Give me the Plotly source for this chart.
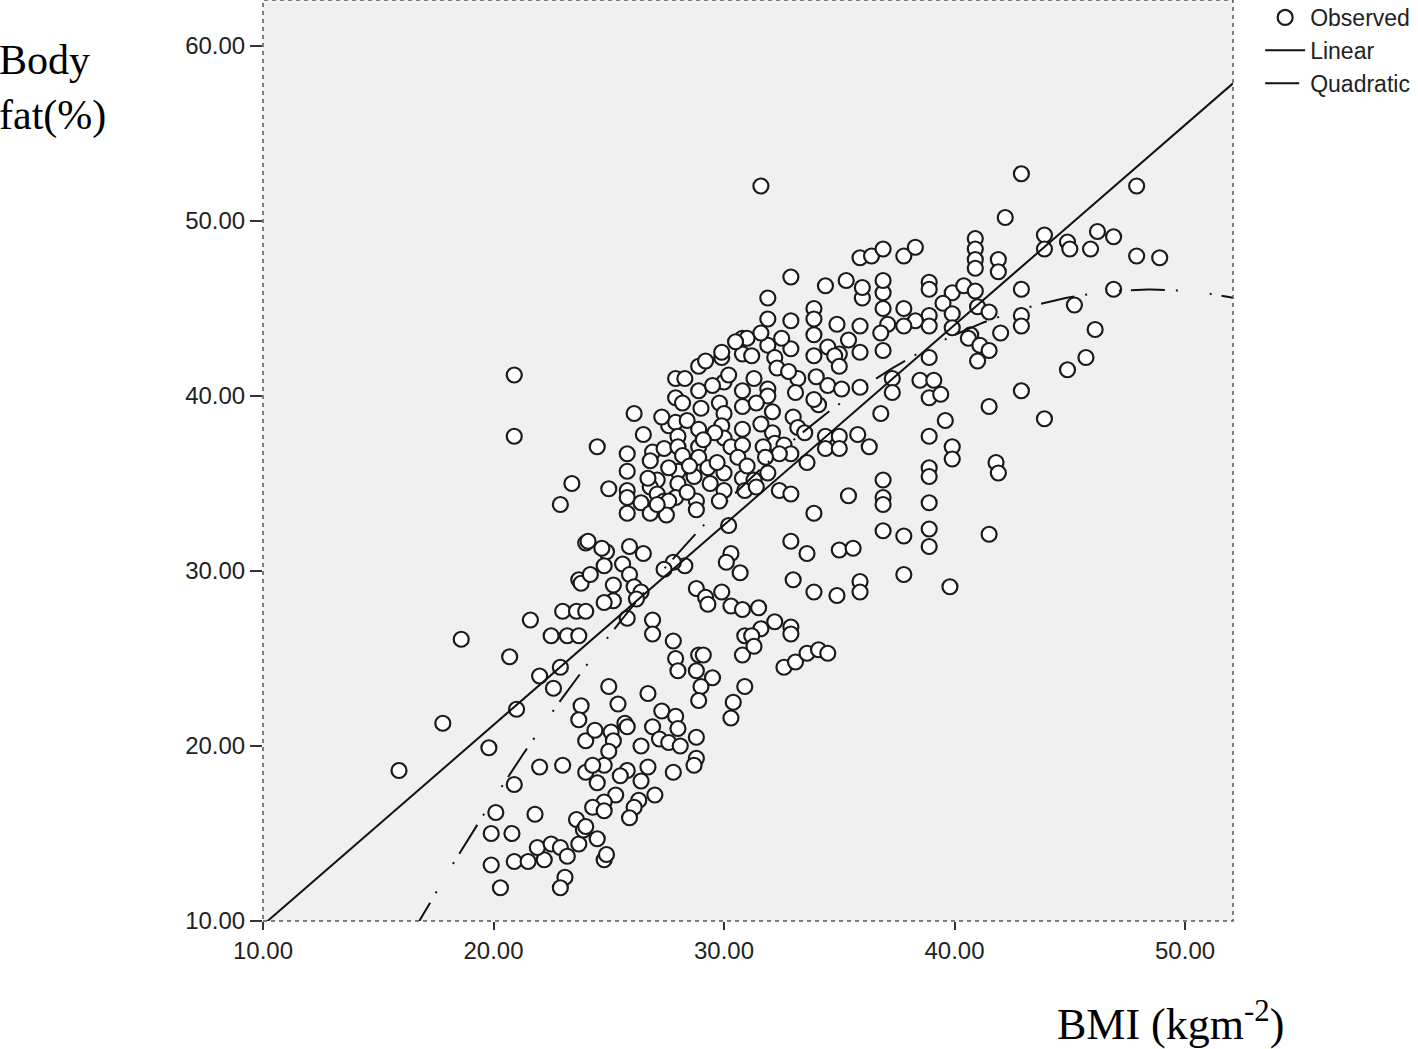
import numpy as np
import plotly.graph_objects as go

# observed points (BMI, body fat %)
bmi = [
    15.9, 17.8, 18.6, 19.8, 20.7, 22.0, 22.9, 22.6, 21.0, 22.0, 23.0, 20.9, 20.1, 21.8, 19.9, 20.8,
    19.9, 20.9, 21.5, 22.2, 21.9, 22.5, 22.9, 23.2, 23.7, 23.6, 23.9, 23.1, 22.9, 20.3, 23.8, 23.7,
    24.0, 24.0, 22.5, 23.2, 23.7,
    20.9, 20.9, 23.4, 22.9, 24.0, 23.7, 23.8, 21.6, 23.0, 23.6, 24.0,
    28.9, 29.9, 29.9, 30.8, 30.8, 27.9, 28.3, 27.9, 28.9, 30.0, 29.8, 29.0, 26.1, 24.5, 25.8, 25.8,
    25.0, 25.8, 25.8, 26.9, 27.4, 27.6, 27.9, 28.4, 28.0, 28.0, 28.2, 28.9, 28.9, 28.9, 29.3, 29.4,
    30.0, 30.0, 28.0, 28.0, 27.9, 27.1, 26.8, 27.1, 27.4, 30.0, 29.9, 30.0, 30.3, 30.8, 30.8, 30.8,
    30.8, 30.6, 30.8, 30.9, 28.7, 28.8, 27.6, 26.4,
    31.9, 31.9, 32.9, 33.9, 33.9, 33.9, 34.9, 35.9, 36.0, 36.9, 36.9, 37.8, 37.1, 36.8, 36.9, 35.9,
    35.4, 35.0, 31.0, 31.2, 31.9, 32.9, 33.9, 32.2, 32.3, 33.2, 32.8, 34.5, 34.8, 35.0, 34.5, 35.1,
    35.9, 37.3, 37.3, 36.8, 34.1, 33.9, 33.1, 33.0, 33.2, 31.9, 31.9, 32.1, 32.1, 32.2, 32.6, 32.9,
    32.4, 31.7, 31.8, 34.4, 35.0, 34.4, 35.0, 35.8, 36.3, 36.9, 31.3, 31.9, 32.4, 32.9, 35.4, 36.9,
    25.8, 26.8, 27.5, 28.8, 27.1, 30.2, 24.1, 24.9, 24.7, 25.9, 26.5, 30.3, 30.1, 30.7, 28.3, 27.8,
    27.4, 24.8, 24.2, 25.6, 25.9, 25.2, 26.1, 25.2, 24.8, 26.4, 26.2, 25.8, 28.8, 29.2, 29.3, 29.9,
    30.3, 30.8, 26.9, 26.9, 27.8, 27.9, 28.9, 29.1, 30.9, 30.8,
    33.9, 36.9, 36.9, 37.8, 37.8, 32.9, 33.6, 35.0, 35.6, 33.0, 33.9, 34.9, 35.9, 35.9, 31.5, 32.2,
    32.9, 32.9, 31.6, 31.2, 31.3, 32.6, 33.1, 33.6, 34.1, 34.5,
    28.0, 28.8, 29.5, 29.0, 28.9, 30.9, 30.4, 30.3, 25.0, 26.7, 25.4, 24.4, 25.1, 25.2, 25.0, 25.7,
    25.8, 27.3, 27.9, 26.9, 28.0, 27.2, 27.6, 28.1, 28.8, 26.4, 28.8, 28.7, 27.8, 26.7, 25.8, 25.5,
    24.8, 24.3, 24.5, 26.4, 27.0, 26.3, 26.1, 25.9, 25.3, 24.8, 24.3, 24.8, 24.0, 24.5, 24.8, 24.9,
    31.6, 32.9, 34.4, 35.3, 36.0, 36.9, 35.9, 36.4, 36.9, 37.8,
    42.9, 47.9, 42.2, 38.3, 40.9, 40.9, 40.9, 40.9, 41.9, 41.9, 43.9, 43.9, 44.9, 45.0, 45.9, 46.2,
    46.9, 47.9, 48.9, 42.9, 46.9, 45.2, 42.9, 42.9, 46.1, 42.0, 38.9, 38.9, 39.9, 40.4, 40.9, 39.5,
    39.9, 38.9, 38.9, 41.0, 41.5, 38.3, 37.8, 39.9, 40.7,
    40.6, 41.1, 41.5, 41.0, 45.7, 44.9, 38.9, 38.5, 39.1, 38.9, 39.4, 42.9, 41.5, 43.9, 39.6, 38.9,
    39.9, 39.9, 41.8, 41.9, 38.9, 38.9, 38.9, 38.9, 38.9, 41.5, 39.8,
    29.2, 30.2, 29.5, 29.6, 29.1, 28.5, 29.7, 27.6, 26.7, 28.4, 29.8, 31.4, 31.6, 31.4, 31.3, 31.6,
    30.5, 28.2, 27.3, 26.5, 26.8, 31.0, 33.6, 33.5, 34.0, 32.5,
]
body_fat = [
    18.6, 21.3, 26.1, 19.9, 25.1, 24.0, 24.5, 23.3, 22.1, 18.8, 18.9, 17.8, 16.2, 16.1, 15.0, 15.0,
    13.2, 13.4, 13.4, 13.5, 14.2, 14.4, 14.2, 13.7, 14.4, 15.8, 15.2, 12.5, 11.9, 11.9, 22.3, 21.5,
    20.3, 18.5, 26.3, 26.3, 26.3,
    41.2, 37.7, 35.0, 33.8, 31.6, 29.5, 29.3, 27.2, 27.7, 27.7, 27.7,
    41.7, 42.2, 42.5, 43.3, 42.4, 41.0, 41.0, 39.9, 40.3, 40.8, 39.6, 39.3, 39.0, 37.1, 36.7, 35.7,
    34.7, 34.6, 34.2, 36.8, 37.0, 38.3, 38.5, 38.6, 37.7, 37.1, 36.6, 38.1, 37.1, 36.5, 35.9, 35.0,
    35.6, 34.6, 35.7, 35.0, 34.2, 35.2, 34.8, 34.4, 34.0, 39.0, 38.3, 37.6, 37.1, 40.3, 39.4, 38.1,
    37.2, 36.5, 35.3, 34.6, 35.4, 34.0, 34.0, 33.9,
    45.6, 44.4, 44.3, 45.0, 44.4, 43.5, 44.1, 44.0, 45.6, 45.9, 45.0, 45.0, 44.1, 43.6, 42.6, 42.5,
    43.2, 42.4, 43.3, 42.3, 42.9, 42.7, 42.3, 42.2, 41.6, 41.0, 41.4, 42.8, 42.3, 41.7, 40.6, 40.4,
    40.5, 41.0, 40.2, 39.0, 39.5, 39.8, 40.2, 38.8, 38.2, 40.4, 40.0, 39.1, 37.9, 37.3, 37.2, 36.7,
    36.7, 37.1, 36.5, 37.7, 37.7, 37.0, 37.0, 37.8, 37.1, 35.2, 35.2, 35.6, 34.6, 34.4, 34.3, 34.2,
    33.3, 33.3, 33.2, 33.5, 33.8, 32.6, 31.7, 31.1, 31.3, 31.4, 31.0, 31.0, 30.5, 29.9, 30.3, 30.5,
    30.1, 30.3, 29.8, 30.4, 29.8, 29.2, 29.1, 28.3, 28.2, 28.8, 28.4, 27.3, 29.0, 28.5, 28.1, 28.8,
    28.0, 27.8, 27.2, 26.4, 26.0, 25.0, 25.2, 25.2, 26.3, 25.2,
    33.3, 33.8, 32.3, 32.0, 29.8, 31.7, 31.0, 31.2, 31.3, 29.5, 28.8, 28.6, 29.4, 28.8, 27.9, 27.1,
    26.8, 26.4, 26.7, 26.3, 25.7, 24.5, 24.8, 25.3, 25.5, 25.3,
    24.3, 24.3, 23.9, 23.4, 22.6, 23.4, 22.5, 21.6, 23.4, 23.0, 22.4, 20.9, 20.8, 20.3, 19.7, 21.3,
    21.1, 22.0, 21.7, 21.1, 21.0, 20.4, 20.2, 20.0, 20.5, 20.0, 19.3, 18.9, 18.5, 18.8, 18.6, 18.3,
    18.9, 18.9, 17.9, 18.0, 17.2, 16.9, 16.5, 15.9, 17.2, 16.8, 16.5, 16.3, 15.4, 14.7, 13.5, 13.8,
    52.0, 46.8, 46.3, 46.6, 46.2, 46.6, 47.9, 48.0, 48.4, 48.0,
    52.7, 52.0, 50.2, 48.5, 49.0, 48.4, 47.8, 47.3, 47.8, 47.1, 49.2, 48.4, 48.8, 48.4, 48.4, 49.4,
    49.1, 48.0, 47.9, 46.1, 46.1, 45.2, 44.6, 44.0, 43.8, 43.6, 46.5, 46.1, 45.9, 46.3, 46.0, 45.3,
    44.7, 44.6, 44.0, 45.1, 44.8, 44.3, 44.0, 43.9, 43.5,
    43.3, 42.9, 42.6, 42.0, 42.2, 41.5, 42.2, 40.9, 40.9, 39.9, 40.1, 40.3, 39.4, 38.7, 38.6, 37.7,
    37.1, 36.4, 36.2, 35.6, 35.9, 35.4, 33.9, 32.4, 31.4, 32.1, 29.1,
    42.0, 41.2, 40.6, 37.9, 37.5, 36.0, 36.2, 35.9, 35.3, 34.5, 34.0, 34.8, 38.4, 39.6, 41.0, 43.6,
    43.1, 39.6, 38.8, 37.8, 36.3, 36.0, 36.2, 37.9, 41.1, 43.3,
]

# fitted curves: linear y = a + b*x, quadratic y = a + b*x + c*x^2
linear_coef = [-1.66, 1.143]
quadratic_coef = [-38.25, 3.478, -0.03586]

x_tick_vals = [10, 20, 30, 40, 50]
y_tick_vals = [10, 20, 30, 40, 50, 60]
x_range = [10, 52.08]
y_range = [10, 62.63]

xs = np.linspace(16.5, x_range[1], 300)
lin_x = np.linspace(x_range[0], x_range[1], 50)
lin_y = linear_coef[0] + linear_coef[1] * lin_x
quad_y = quadratic_coef[0] + quadratic_coef[1] * xs + quadratic_coef[2] * xs ** 2

fig = go.Figure()

fig.add_trace(go.Scatter(
    x=bmi, y=body_fat, mode="markers", name="Observed",
    marker=dict(symbol="circle", size=15, color="white",
                line=dict(color="#1a1a1a", width=2.2)),
))
fig.add_trace(go.Scatter(
    x=lin_x, y=lin_y, mode="lines", name="Linear",
    line=dict(color="#111111", width=2),
))
fig.add_trace(go.Scatter(
    x=xs, y=quad_y, mode="lines", name="Quadratic",
    line=dict(color="#111111", width=2, dash="34px,11px,2px,32px,2px,10px"),
))

sans = "Arial, Liberation Sans, sans-serif"
serif = "Times New Roman, Liberation Serif, serif"

fig.update_layout(
    width=1418, height=1049,
    margin=dict(l=263, r=185, t=0, b=128, autoexpand=False),
    paper_bgcolor="white",
    plot_bgcolor="#f0f0f0",
    font=dict(family=sans, size=24, color="#222222"),
    showlegend=True,
    legend=dict(
        x=1.028, y=1.0 + 4 / 921, xanchor="left", yanchor="top",
        font=dict(family=sans, size=23, color="#222222"),
        bgcolor="rgba(0,0,0,0)", itemwidth=40,
        tracegroupgap=0,
    ),
    xaxis=dict(
        range=x_range, tickvals=x_tick_vals, tickformat=".2f",
        showgrid=False, zeroline=False, showline=False,
        ticks="outside", ticklen=8, tickcolor="#333333", tickwidth=1.5,
        tickfont=dict(family=sans, size=24, color="#222222"),
    ),
    yaxis=dict(
        range=y_range, tickvals=y_tick_vals, tickformat=".2f",
        showgrid=False, zeroline=False, showline=False,
        ticks="outside", ticklen=12, tickcolor="#333333", tickwidth=1.5,
        tickfont=dict(family=sans, size=24, color="#222222"),
    ),
    shapes=[
        dict(type="rect", xref="paper", yref="paper", x0=0, x1=1, y0=0, y1=1,
             line=dict(color="#555555", width=1.5, dash="4px,4px"), layer="above"),
    ],
    annotations=[
        dict(text="Body<br>fat(%)", xref="paper", yref="paper",
             x=-266 / 970, y=1 - 35 / 921, xanchor="left", yanchor="top",
             align="left", showarrow=False,
             font=dict(family=serif, size=42, color="black")),
        dict(text="BMI (kgm<sup>-2</sup>)", xref="paper", yref="paper",
             x=(1055 - 263) / 970, y=-(1021 - 921) / 921, xanchor="left", yanchor="middle",
             showarrow=False,
             font=dict(family=serif, size=44, color="black")),
    ],
)

fig.write_html("out.html", config={"displayModeBar": False},
               post_script="document.body.style.margin='0px';")
